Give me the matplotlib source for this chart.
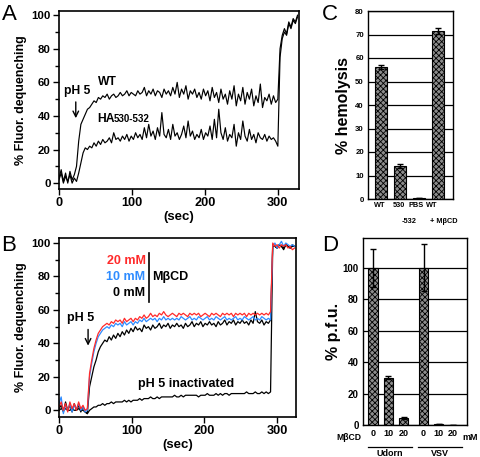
import numpy as np
import matplotlib
matplotlib.use("Agg")
import matplotlib.pyplot as plt
from matplotlib import transforms as mtrans

plt.rcParams['font.family'] = ['Liberation Sans', 'DejaVu Sans']
plt.rcParams['hatch.color'] = '#2a2a2a'
plt.rcParams['hatch.linewidth'] = 0.6

# ---------------- data ----------------
# Panel A: time step 3 s
step_a = 3
a_wt = [3, 8, 1, 6, 0, 7, 2, 5, 10, 25, 35, 38, 41, 44, 45, 47, 49, 48, 51, 50,
        52, 51, 53, 50, 52, 53, 51, 52, 54, 52, 53, 55, 52, 54, 53, 52, 55, 53, 54, 57,
        52, 55, 53, 56, 52, 55, 54, 51, 56, 53, 55, 52, 57, 53, 60, 51, 56, 53, 58, 50,
        55, 53, 56, 51, 54, 50, 56, 52, 55, 49, 57, 51, 54, 48, 56, 50, 53, 47, 55, 50,
        58, 46, 53, 49, 57, 47, 54, 50, 56, 46, 52, 48, 59, 45, 51, 49, 53, 47, 52, 48,
        50, 80, 88, 92, 89, 96, 93, 98, 96, 100]
a_ha = [2, 6, 0, 4, 1, 5, 0, 3, 1, 6, 12, 18, 21, 20, 22, 21, 24, 22, 25, 23,
        26, 24, 25, 27, 24, 30, 26, 27, 25, 28, 26, 29, 25, 28, 26, 30, 27, 29, 26, 33,
        27, 35, 28, 31, 26, 33, 28, 42, 29, 27, 32, 26, 35, 28, 30, 26, 29, 34, 27, 37,
        28, 31, 26, 29, 27, 32, 26, 30, 28, 34, 26, 38, 27, 44, 30, 26, 33, 25, 29, 27,
        35, 22, 30, 26, 37, 28, 25, 32, 26, 29, 24, 30, 27, 26, 29, 25, 28, 26, 27, 25,
        22, 75, 86, 90, 88, 95, 92, 97, 95, 99]

# Panel B: time step 3 s
step_b = 3
b_20 = [2, 5, 0, 4, -1, 5, 1, 4, 0, 5, 1, 3, 0, 1, 22, 30, 37, 42, 46, 48,
        50, 51, 52, 51, 53, 52, 54, 53, 54, 52, 55, 53, 54, 55, 53, 55, 54, 56, 55, 57,
        55, 56, 58, 56, 57, 56, 58, 57, 59, 57, 56, 57, 58, 57, 56, 58, 57, 58, 57, 56,
        58, 57, 58, 57, 58, 56, 57, 58, 57, 56, 58, 57, 58, 57, 56, 58, 57, 58, 57, 58,
        56, 58, 57, 58, 57, 58, 56, 58, 57, 58, 57, 58, 57, 58, 57, 58, 57, 59, 100, 98,
        99, 97, 99, 98, 99, 97, 98, 96, 97]
b_10 = [4, 8, -2, 3, 0, 4, -1, 3, 1, 4, 0, 2, -1, 0, 20, 28, 35, 40, 44, 46,
        48, 49, 50, 49, 51, 50, 52, 51, 52, 50, 53, 51, 52, 53, 51, 53, 52, 54, 53, 55,
        53, 54, 55, 54, 55, 53, 55, 54, 56, 54, 55, 54, 55, 54, 55, 54, 56, 55, 54, 55,
        56, 54, 55, 54, 56, 55, 54, 55, 56, 54, 55, 54, 56, 55, 54, 55, 56, 54, 55, 54,
        55, 56, 54, 55, 54, 56, 55, 54, 55, 56, 54, 55, 54, 56, 55, 54, 55, 54, 98, 100,
        97, 99, 101, 98, 100, 99, 98, 99, 98]
b_0 = [1, 3, -1, 5, 0, 3, -1, 4, 0, 3, -1, 2, -1, -2, 14, 20, 26, 30, 35, 38,
       40, 42, 41, 44, 42, 45, 43, 46, 44, 47, 45, 48, 46, 49, 47, 50, 48, 49, 47, 51,
       49, 50, 48, 51, 49, 50, 52, 49, 51, 50, 52, 49, 51, 50, 52, 50, 51, 49, 52, 50,
       51, 53, 50, 52, 51, 53, 50, 52, 51, 53, 51, 52, 50, 53, 51, 52, 54, 51, 53, 52,
       54, 51, 53, 52, 54, 52, 53, 51, 54, 52, 59, 53, 52, 54, 51, 53, 52, 54, 99, 98,
       97, 99, 98, 96, 99, 98, 97, 99, 98]
b_inact = [0, 1, 0, 1, 0, 0, 1, 0, 0, 1, 0, 0, -1, -2, 0, 1, 2, 2, 3, 3,
           4, 3, 4, 4, 5, 4, 5, 5, 5, 5, 6, 5, 6, 5, 6, 6, 6, 7, 6, 7,
           7, 7, 8, 7, 7, 8, 7, 8, 8, 8, 8, 8, 8, 9, 8, 8, 9, 8, 9, 9,
           9, 9, 9, 9, 8, 9, 9, 9, 10, 9, 9, 9, 10, 9, 10, 9, 10, 10, 9, 10,
           10, 10, 10, 10, 10, 10, 11, 10, 10, 10, 11, 10, 10, 11, 10, 11, 10, 11, 98, 98,
           97, 99, 98, 97, 99, 98, 97, 98, 98]

# Panel C
c_labels = ['WT', '530', 'PBS', 'WT']
c_sublabels = ['', '-532', '', '+ MβCD']
c_values = [56.2, 14.1, 0.6, 71.6]
c_errors = [1.0, 1.0, 0.0, 1.2]

# Panel D
d_labels = ['0', '10', '20', '0', '10', '20']
d_groups = ['Udorn', 'VSV']
d_values = [100, 30.2, 4.2, 100, 0.5, 0.0]
d_errors = [12, 0.8, 0.6, 15, 0.0, 0.0]

# ---------------- figure ----------------
W, H = 481, 457
fig = plt.figure(figsize=(W / 100, H / 100), dpi=100)

def ax_px(l, t, r, b):
    return fig.add_axes([l / W, 1 - b / H, (r - l) / W, (b - t) / H])

def style_trace_axes(ax, xmax, ylo, yhi):
    ax.set_xlim(0, xmax)
    ax.set_ylim(ylo, yhi)
    ax.set_xticks([0, 100, 200, 300])
    ax.set_yticks([0, 20, 40, 60, 80, 100])
    ax.set_yticks(np.arange(10, 100, 20), minor=True)
    ax.tick_params(axis='both', which='major', direction='out', length=4, width=1, pad=2)
    ax.tick_params(axis='x', which='major', labelsize=9.2)
    ax.tick_params(axis='y', which='major', labelsize=8.2)
    ax.tick_params(axis='y', which='minor', direction='out', length=3, width=1)
    for lab in ax.get_xticklabels() + ax.get_yticklabels():
        lab.set_fontweight('bold')
    for s in ax.spines.values():
        s.set_linewidth(1.2)
    ax.set_ylabel('% Fluor. dequenching', fontsize=9.0, fontweight='bold', labelpad=3)
    ax.set_xlabel('(sec)', fontsize=9.5, fontweight='bold', labelpad=1)

# Panel A
axA = ax_px(59, 11, 299, 189)
axA.plot(np.arange(len(a_wt)) * step_a, a_wt, color='black', lw=0.85)
axA.plot(np.arange(len(a_ha)) * step_a, a_ha, color='black', lw=0.85)
style_trace_axes(axA, 329, -3.5, 102.5)
axA.text(53, 60, 'WT', fontsize=8.7, fontweight='bold', va='center', ha='left')
axA.text(53, 36.5, 'HA', fontsize=8.7, fontweight='bold', va='baseline', ha='left')
axA.text(53, 36.5, '530-532', fontsize=7.0, fontweight='bold', va='baseline', ha='left',
         transform=mtrans.offset_copy(axA.transData, fig=fig, x=16, y=0, units='dots'))
axA.text(7, 55, 'pH 5', fontsize=8.7, fontweight='bold', va='center', ha='left')
axA.annotate('', xy=(23, 37), xytext=(23, 50),
             arrowprops=dict(arrowstyle='->', color='black', lw=1.0))

# Panel B
axB = ax_px(59, 238, 296, 417)
tb = np.arange(len(b_0)) * step_b
axB.plot(tb, b_inact, color='black', lw=0.9)
axB.plot(tb, b_0, color='black', lw=0.9)
axB.plot(tb, b_10, color='#2f8cff', lw=0.9)
axB.plot(tb, b_20, color='#ff2a2a', lw=0.9)
style_trace_axes(axB, 326, -4, 103)
axB.text(11, 55, 'pH 5', fontsize=9, fontweight='bold', va='center', ha='left')
axB.annotate('', xy=(40, 37), xytext=(40, 50),
             arrowprops=dict(arrowstyle='->', color='black', lw=1.0))
axB.text(109, 15.5, 'pH 5 inactivated', fontsize=9, fontweight='bold', va='center', ha='left')
axB.text(119, 89, '20 mM', fontsize=9, fontweight='bold', va='center', ha='right', color='#ff2a2a')
axB.text(119, 79.5, '10 mM', fontsize=9, fontweight='bold', va='center', ha='right', color='#2f8cff')
axB.text(119, 70, '0 mM', fontsize=9, fontweight='bold', va='center', ha='right', color='black')
axB.plot([124, 124], [65, 94], color='black', lw=1.2)
axB.text(128, 79.5, 'MβCD', fontsize=9, fontweight='bold', va='center', ha='left')

# Panel C
axC = ax_px(368, 11, 453, 199)
xc = np.arange(len(c_values))
axC.set_axisbelow(True)
axC.bar(xc, c_values, width=0.63, color='#8c8c8c', edgecolor='black', linewidth=0.8,
        hatch='xxxxxx', yerr=c_errors, capsize=2.2,
        error_kw=dict(elinewidth=1.0, capthick=1.0, ecolor='black'), zorder=3)
axC.set_xlim(-0.68, 3.79)
axC.set_ylim(0, 80)
axC.set_yticks(np.arange(0, 81, 10))
axC.yaxis.grid(True, color='black', lw=0.9)
axC.set_xticks([])
axC.tick_params(axis='both', length=0, labelsize=5.6, pad=3)
for lab in axC.get_yticklabels():
    lab.set_fontweight('bold')
axC.set_ylabel('% hemolysis', fontsize=11.5, fontweight='bold', labelpad=3)
for s in axC.spines.values():
    s.set_linewidth(1.0)
trC = mtrans.blended_transform_factory(axC.transData, axC.transAxes)
c_lab_x = [-0.05, 0.95, 1.84, 2.66]
c_sub_x = [0, 1.5, 0, 3.3]
for i in range(len(c_labels)):
    axC.text(c_lab_x[i], -0.033, c_labels[i], transform=trC, fontsize=5.3,
             fontweight='bold', ha='center', va='center')
    if c_sublabels[i]:
        axC.text(c_sub_x[i], -0.122, c_sublabels[i], transform=trC, fontsize=5.3,
                 fontweight='bold', ha='center', va='center')

# Panel D
axD = ax_px(363, 238, 467, 425)
xd = np.array([0, 1, 2, 3.3, 4.3, 5.2])
axD.set_axisbelow(True)
axD.bar(xd, d_values, width=0.6, color='#8c8c8c', edgecolor='black', linewidth=0.8,
        hatch='xxxxxx', yerr=d_errors, capsize=2.2,
        error_kw=dict(elinewidth=1.0, capthick=1.0, ecolor='black'), zorder=3)
axD.set_xlim(-0.65, 6.14)
axD.set_ylim(0, 119)
axD.set_yticks(np.arange(0, 101, 20))
axD.yaxis.grid(True, color='black', lw=0.9)
axD.set_xticks(xd)
axD.set_xticklabels(d_labels, fontsize=6.5, fontweight='bold')
axD.tick_params(axis='both', length=0, pad=3)
axD.tick_params(axis='y', labelsize=7.0)
for lab in axD.get_yticklabels():
    lab.set_fontweight('bold')
axD.set_ylabel('% p.f.u.', fontsize=11.5, fontweight='bold', labelpad=1)
for s in axD.spines.values():
    s.set_linewidth(1.0)
trD = mtrans.blended_transform_factory(axD.transData, axD.transAxes)
axD.text(-0.75, -0.045, 'MβCD', transform=trD, fontsize=6.2, fontweight='bold',
         ha='right', va='top')
axD.text(5.85, -0.045, 'mM', transform=trD, fontsize=6.5, fontweight='bold',
         ha='left', va='top')
axD.plot([-0.35, 2.55], [-0.117, -0.117], transform=trD, color='black', lw=0.9, clip_on=False)
axD.plot([2.95, 5.8], [-0.117, -0.117], transform=trD, color='black', lw=0.9, clip_on=False)
axD.text(1.1, -0.13, d_groups[0], transform=trD, fontsize=6.5, fontweight='bold',
         ha='center', va='top')
axD.text(4.4, -0.13, d_groups[1], transform=trD, fontsize=6.5, fontweight='bold',
         ha='center', va='top')

# Panel letters
for letter, (px, py) in zip('ABCD', [(2, 4), (1, 235), (322, 4), (322, 235)]):
    fig.text(px / W, 1 - py / H, letter, fontsize=16, ha='left', va='top')

fig.savefig('out.png', dpi=100)
